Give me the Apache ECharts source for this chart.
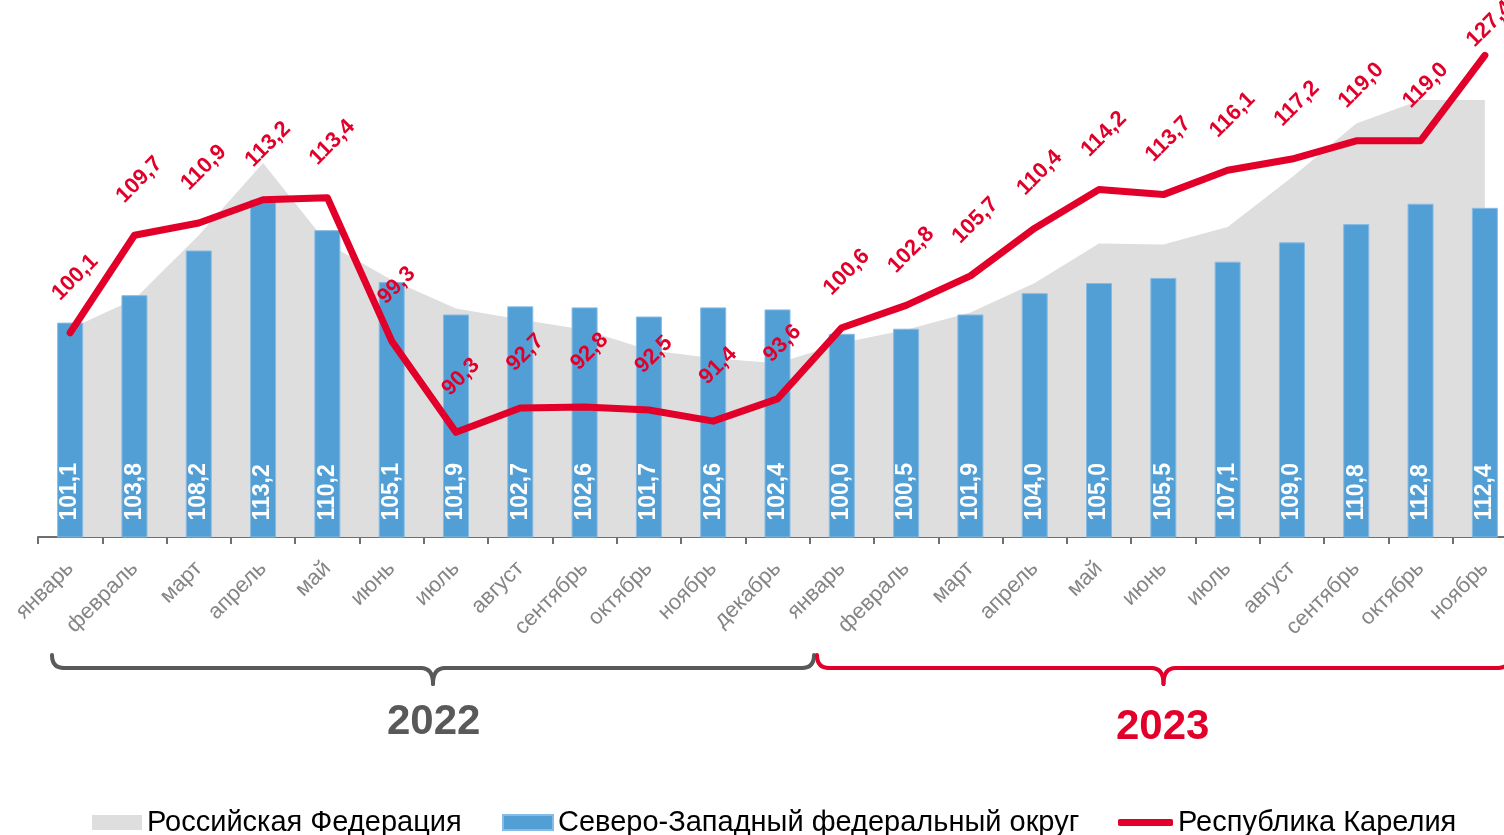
<!DOCTYPE html>
<html>
<head>
<meta charset="utf-8">
<script src="https://cdn.jsdelivr.net/npm/echarts@6/dist/echarts.min.js"></script>
<style>
html, body { margin: 0; padding: 0; background: #fff; }
#chart { width: 1504px; height: 835px; }
</style>
</head>
<body>
<div id="chart"></div>
<script>
// months for 2022 and 2023 (up to november)
const months = ['январь', 'февраль', 'март', 'апрель', 'май', 'июнь', 'июль', 'август', 'сентябрь', 'октябрь', 'ноябрь', 'декабрь',
  'январь', 'февраль', 'март', 'апрель', 'май', 'июнь', 'июль', 'август', 'сентябрь', 'октябрь', 'ноябрь']
// Российская Федерация (no labels on the picture, read off the grey area)
const rfValues = [100.5, 103.4, 109.7, 116.8, 108.9, 105.3, 102.5, 101.4, 100.4, 98.4, 97.6, 97.1,
  99.1, 100.4, 102.1, 105.0, 108.9, 108.8, 110.5, 115.4, 120.7, 123.0, 123.0]
// Северо-Западный федеральный округ
const szfoValues = [101.1, 103.8, 108.2, 113.2, 110.2, 105.1, 101.9, 102.7, 102.6, 101.7, 102.6, 102.4,
  100.0, 100.5, 101.9, 104.0, 105.0, 105.5, 107.1, 109.0, 110.8, 112.8, 112.4]
// Республика Карелия
const kareliaValues = [100.1, 109.7, 110.9, 113.2, 113.4, 99.3, 90.3, 92.7, 92.8, 92.5, 91.4, 93.6,
  100.6, 102.8, 105.7, 110.4, 114.2, 113.7, 116.1, 117.2, 119.0, 119.0, 127.4]
const years = ['2022', '2023']

const FONT = "'Liberation Sans', Arial, sans-serif"
const RED = '#e2002a'
const GREY = '#595959'

function fmt (p) {
  return p.value.toFixed(1).replace('.', ',')
}

// the last label sits closer to the line so it stays on the picture
const kareliaData = kareliaValues.map((v, i) =>
  i === kareliaValues.length - 1 ? { value: v, label: { distance: 16 } } : v)

// curly brace under a group of months, made of lines and quadratic curves
function brace (x0, x1, color) {
  const xm = (x0 + x1) / 2
  const yTop = 655
  const yMid = 668
  const yTip = 684
  const r = 12
  const style = { fill: null, stroke: color, lineWidth: 4, lineCap: 'round' }
  const curve = (ax, ay, cx, cy, bx, by) => ({
    type: 'bezierCurve', silent: true, style: style,
    shape: { x1: ax, y1: ay, cpx1: cx, cpy1: cy, x2: bx, y2: by }
  })
  const line = (ax, bx) => ({
    type: 'line', silent: true, style: style,
    shape: { x1: ax, y1: yMid, x2: bx, y2: yMid }
  })
  return {
    type: 'group',
    children: [
      curve(x0, yTop, x0, yMid, x0 + r, yMid),
      line(x0 + r, xm - r),
      curve(xm - r, yMid, xm, yMid, xm, yTip),
      curve(xm, yTip, xm, yMid, xm + r, yMid),
      line(xm + r, x1 - r),
      curve(x1 - r, yMid, x1, yMid, x1, yTop)
    ]
  }
}

const chart = echarts.init(document.getElementById('chart'))
chart.setOption({
  animation: false,
  textStyle: { fontFamily: FONT },
  // the last month is cut by the right edge of the picture
  grid: { left: 38, right: -13, top: 29, bottom: 298, outerBoundsMode: 'none', containLabel: false },
  legend: [
    {
      data: [{ name: 'Российская Федерация', icon: 'rect' }],
      left: 87, top: 803, itemWidth: 50, itemHeight: 15,
      textStyle: { fontSize: 29, color: '#000', fontFamily: FONT }
    },
    {
      data: [{ name: 'Северо-Западный федеральный округ', icon: 'rect' }],
      left: 497, top: 803, itemWidth: 50, itemHeight: 15,
      textStyle: { fontSize: 29, color: '#000', fontFamily: FONT }
    },
    {
      data: [{ name: 'Республика Карелия', icon: 'roundRect' }],
      left: 1113, top: 803, itemWidth: 55, itemHeight: 7,
      textStyle: { fontSize: 29, color: '#000', fontFamily: FONT }
    }
  ],
  xAxis: {
    type: 'category',
    data: months,
    boundaryGap: true,
    axisLine: { lineStyle: { color: '#6f6f6f', width: 2 } },
    axisTick: { show: true, length: 7, lineStyle: { color: '#6f6f6f', width: 2 } },
    axisLabel: { rotate: 45, margin: 28, fontSize: 22, color: '#858585', interval: 0 }
  },
  yAxis: {
    type: 'value',
    min: 80,
    max: 130,
    show: false,
    splitLine: { show: false }
  },
  series: [
    {
      name: 'Российская Федерация',
      type: 'line',
      data: rfValues,
      color: '#dedede',
      symbol: 'none',
      lineStyle: { width: 0 },
      areaStyle: { color: '#dedede', opacity: 1 },
      z: 1
    },
    {
      name: 'Северо-Западный федеральный округ',
      type: 'bar',
      data: szfoValues,
      barWidth: 26,
      itemStyle: { color: '#529fd6', borderColor: '#86bbe3', borderWidth: 1 },
      label: {
        show: true,
        position: 'insideBottom',
        rotate: 90,
        align: 'left',
        verticalAlign: 'middle',
        distance: 17,
        color: '#fff',
        fontWeight: 'bold',
        fontSize: 23,
        formatter: fmt
      },
      z: 2
    },
    {
      name: 'Республика Карелия',
      type: 'line',
      data: kareliaData,
      color: RED,
      symbol: 'circle',
      symbolSize: 1,
      showSymbol: true,
      lineStyle: { color: RED, width: 7, cap: 'round', join: 'round' },
      label: {
        show: true,
        position: 'top',
        rotate: 45,
        distance: 40,
        offset: [14, 4],
        color: RED,
        fontWeight: 'bold',
        fontSize: 22,
        formatter: fmt
      },
      z: 3
    }
  ],
  graphic: [
    brace(52, 814, GREY),
    brace(817, 1510, RED),
    {
      type: 'text',
      left: 433 - 46, top: 701,
      style: { text: years[0], fontSize: 42, fontWeight: 'bold', fill: GREY, fontFamily: FONT }
    },
    {
      type: 'text',
      left: 1163 - 47, top: 706,
      style: { text: years[1], fontSize: 42, fontWeight: 'bold', fill: RED, fontFamily: FONT }
    }
  ]
})
</script>
</body>
</html>
